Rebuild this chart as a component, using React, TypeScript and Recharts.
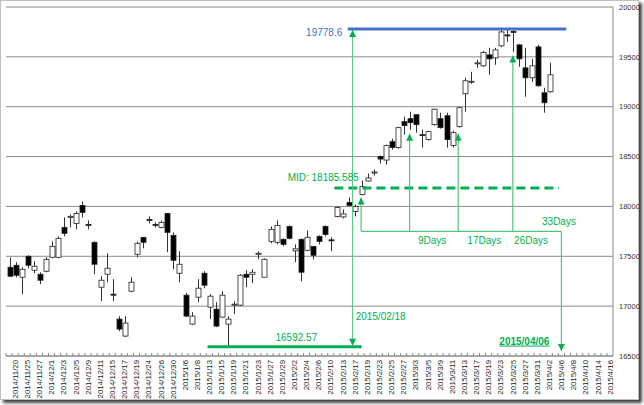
import React from "react";
import {
  ComposedChart,
  Bar,
  XAxis,
  YAxis,
  CartesianGrid,
  ReferenceLine,
  ReferenceDot,
} from "recharts";

const dates = [
  "2014/11/19", "2014/11/20", "2014/11/21", "2014/11/25", "2014/11/26", "2014/11/27", "2014/11/28",
  "2014/12/1", "2014/12/2", "2014/12/3", "2014/12/4", "2014/12/5", "2014/12/8", "2014/12/9",
  "2014/12/10", "2014/12/11", "2014/12/12", "2014/12/15", "2014/12/16", "2014/12/17", "2014/12/18",
  "2014/12/19", "2014/12/22", "2014/12/24", "2014/12/25", "2014/12/26", "2014/12/29", "2014/12/30",
  "2015/1/5", "2015/1/6", "2015/1/7", "2015/1/8", "2015/1/9", "2015/1/13", "2015/1/14", "2015/1/15",
  "2015/1/16", "2015/1/19", "2015/1/20", "2015/1/21", "2015/1/22", "2015/1/23", "2015/1/26",
  "2015/1/27", "2015/1/28", "2015/1/29", "2015/1/30", "2015/2/2", "2015/2/3", "2015/2/4", "2015/2/5",
  "2015/2/6", "2015/2/9", "2015/2/10", "2015/2/12", "2015/2/13", "2015/2/16", "2015/2/17",
  "2015/2/18", "2015/2/19", "2015/2/20", "2015/2/23", "2015/2/24", "2015/2/25", "2015/2/26",
  "2015/2/27", "2015/3/2", "2015/3/3", "2015/3/4", "2015/3/5", "2015/3/6", "2015/3/9", "2015/3/10",
  "2015/3/11", "2015/3/12", "2015/3/13", "2015/3/16", "2015/3/17", "2015/3/18", "2015/3/19",
  "2015/3/20", "2015/3/23", "2015/3/24", "2015/3/25", "2015/3/26", "2015/3/27", "2015/3/30",
  "2015/3/31", "2015/4/1", "2015/4/2", "2015/4/3", "2015/4/6", "2015/4/7", "2015/4/8", "2015/4/9",
  "2015/4/10", "2015/4/13", "2015/4/14", "2015/4/15", "2015/4/16",
];

const opens = [
  17390, 17410, 17290, 17500, 17360, 17320, 17350, 17490, 17490, 17790,
  17890, 17830, 18010, 17820, 17640, 17190, 17320, 17120, 16870, 16700,
  17150, 17520, 17690, 17870, 17820, 17790, 17930, 17710, 17330, 17110,
  16820, 17090, 17330, 16990, 16970, 16890, 16820, 17015, 17010, 17320,
  17320, 17525, 17290, 17650, 17640, 17670, 17800, 17555, 17670, 17560,
  17600, 17700, 17800, 17665, 17900, 17895, 18040, 17950, 18120, 18255,
  18340, 18500, 18465, 18650, 18590, 18850, 18880, 18920, 18720, 18670,
  18820, 18880, 18910, 18610, 18800, 19130, 19250, 19435, 19410, 19520,
  19490, 19610, 19720, 19755, 19620, 19390, 19290, 19600, 19140, 19150,
];
const highs = [
  17490, 17440, 17390, 17510, 17450, 17340, 17490, 17650, 17700, 17890,
  17920, 17950, 18050, 17860, 17650, 17300, 17530, 17270, 16900, 16900,
  17290, 17650, 17690, 17900, 17840, 17860, 17930, 17740, 17550, 17130,
  16940, 17270, 17350, 17120, 17040, 17150, 16900, 17050, 17320, 17360,
  17370, 17550, 17480, 17800, 17860, 17680, 17810, 17620, 17680, 17760,
  17600, 17710, 17810, 17690, 18000, 17970, 18090, 18020, 18260, 18330,
  18370, 18510, 18620, 18680, 18800, 18900, 18950, 18920, 18770, 18760,
  18980, 18940, 18940, 18760, 19000, 19290, 19350, 19470, 19560, 19590,
  19590, 19780, 19780, 19778.6, 19630, 19590, 19480, 19620, 19190, 19440,
];
const lows = [
  17290, 17290, 17120, 17380, 17330, 17220, 17340, 17480, 17480, 17700,
  17790, 17770, 17890, 17770, 17320, 17050, 17240, 17050, 16750, 16690,
  17140, 17490, 17580, 17830, 17790, 17780, 17540, 17370, 17240, 16890,
  16810, 17040, 17180, 16870, 16790, 16880, 16592.57, 16920, 17000, 17190,
  17230, 17470, 17290, 17630, 17620, 17600, 17670, 17440, 17250, 17550,
  17470, 17620, 17700, 17550, 17890, 17880, 18000, 17900, 18110, 18250,
  18310, 18430, 18420, 18570, 18580, 18720, 18770, 18740, 18590, 18660,
  18810, 18780, 18590, 18590, 18790, 18950, 19230, 19390, 19400, 19320,
  19420, 19600, 19650, 19550, 19400, 19100, 19250, 19200, 18940, 19140,
];
const closes = [
  17300, 17310, 17370, 17410, 17400, 17260, 17470, 17600, 17680, 17730,
  17900, 17930, 17940, 17815, 17420, 17260, 17380, 17115, 16770, 16830,
  17240, 17630, 17640, 17865, 17818, 17840, 17740, 17460, 17420, 16900,
  16900, 17180, 17210, 17100, 16800, 17110, 16870, 17020, 17310, 17290,
  17340, 17530, 17470, 17770, 17810, 17620, 17680, 17575, 17340, 17690,
  17510, 17650, 17720, 17660, 17990, 17925, 18010, 18000, 18200, 18285,
  18345, 18475, 18610, 18590, 18790, 18810, 18840, 18820, 18715, 18750,
  18975, 18790, 18670, 18740, 18990, 19260, 19255, 19440, 19545, 19480,
  19570, 19750, 19715, 19750, 19480, 19290, 19410, 19210, 19040, 19320,
];

const yTicks = [16500, 17000, 17500, 18000, 18500, 19000, 19500, 20000];

const HIGH = 19778.6;
const LOW = 16592.57;
const MID = 18185.585;

const data = dates.map((date, i) => ({
  idx: i,
  date,
  range: i < opens.length ? [lows[i], highs[i]] : undefined,
  o: opens[i],
  h: highs[i],
  l: lows[i],
  c: closes[i],
}));

const GREEN = "#00b050";
const LIGHT_GREEN = "#52c47c";
const BLUE = "#4472c4";
const FONT = "'Liberation Sans', Arial, sans-serif";

function Candle(props: any) {
  const { x, y, width, height, payload } = props;
  if (payload == null || payload.o == null) return null;
  const { o, h, l, c } = payload;
  const top = Math.min(y, y + height);
  const hh = Math.abs(height);
  const k = h === l ? 0 : hh / (h - l);
  const yO = top + (h - o) * k;
  const yC = top + (h - c) * k;
  const bodyTop = Math.min(yO, yC);
  const bodyH = Math.max(Math.abs(yO - yC), 1);
  const cx = Math.round(x + width / 2) + 0.5;
  const up = c >= o;
  return (
    <g>
      <line x1={cx} x2={cx} y1={top} y2={top + hh} stroke="#333" strokeWidth={1} />
      <rect
        x={cx - width / 2}
        y={bodyTop}
        width={width}
        height={bodyH}
        fill={up ? "#fff" : "#000"}
        stroke="#222"
        strokeWidth={0.8}
      />
    </g>
  );
}

function arrowLine(color: string, width: number, heads: string, dash?: string) {
  return (p: any) => {
    const { x1, y1, x2, y2 } = p;
    const dx = x2 - x1;
    const dy = y2 - y1;
    const len = Math.sqrt(dx * dx + dy * dy) || 1;
    const ux = dx / len;
    const uy = dy / len;
    const head = (tx: number, ty: number, sx: number, sy: number) => {
      const bx = tx - sx * 7;
      const by = ty - sy * 7;
      return `${tx},${ty} ${bx - sy * 3.5},${by + sx * 3.5} ${bx + sy * 3.5},${by - sx * 3.5}`;
    };
    return (
      <g>
        <line x1={x1} y1={y1} x2={x2} y2={y2} stroke={color} strokeWidth={width} strokeDasharray={dash} />
        {(heads === "end" || heads === "both") && <polygon points={head(x2, y2, ux, uy)} fill={GREEN} />}
        {(heads === "start" || heads === "both") && <polygon points={head(x1, y1, -ux, -uy)} fill={GREEN} />}
      </g>
    );
  };
}

function label(text: string, color: string, anchor: string, extra: any = {}) {
  return (p: any) => (
    <text
      x={p.cx}
      y={p.cy}
      dy="0.35em"
      textAnchor={anchor}
      fill={color}
      fontSize={10}
      fontFamily={FONT}
      {...extra}
    >
      {text}
    </text>
  );
}

function DateTick(props: any) {
  const { x, y, payload, index } = props;
  return (
    <g>
      <line x1={x - 3} x2={x - 3} y1={y - 3} y2={y} stroke="#888" />
      {index % 2 === 1 && (
        <text
          x={x}
          y={y + 4}
          transform={`rotate(-90 ${x} ${y + 4})`}
          textAnchor="end"
          dy="0.35em"
          fontSize={7.8}
          fontFamily={FONT}
          fill="#222"
        >
          {payload.value}
        </text>
      )}
    </g>
  );
}

export default function App() {
  return (
    <div style={{ position: "absolute", left: 0, top: 0, width: 644, height: 405, background: "#fff" }}>
      <div
        style={{
          position: "absolute",
          left: 0,
          top: 0,
          width: 637,
          height: 398,
          border: "1px solid #c0c0c0",
          boxShadow: "3px 3px 3px rgba(0,0,0,0.75)",
          background: "#fff",
        }}
      />
      <div style={{ position: "absolute", left: 0, top: 0 }}>
        <ComposedChart
          width={644}
          height={405}
          data={data}
          margin={{ top: 7, right: 5, bottom: 4, left: 6 }}
          barCategoryGap={0}
        >
          <CartesianGrid vertical={false} stroke="#8c8c8c" />
          <XAxis
            dataKey="date"
            interval={0}
            height={45}
            tick={<DateTick />}
            tickLine={false}
            tickSize={0}
            tickMargin={0}
            axisLine={{ stroke: "#8c8c8c" }}
          />
          <XAxis xAxisId="n" type="number" dataKey="idx" domain={[-0.5, 99.5]} hide />
          <YAxis
            orientation="right"
            domain={[16500, 20000]}
            ticks={yTicks}
            width={26}
            tickLine={false}
            tickSize={0}
            tickMargin={6}
            axisLine={{ stroke: "#8c8c8c" }}
            tick={{ fontSize: 7.5, fill: "#333", fontFamily: FONT }}
            allowDataOverflow
          />
          <YAxis yAxisId="l" orientation="left" domain={[16500, 20000]} width={0} tick={false} axisLine={{ stroke: "#8c8c8c" }} />
          <Bar dataKey="range" barSize={5} shape={<Candle />} isAnimationActive={false} />

          <ReferenceLine xAxisId="n" segment={[{ x: 55.8, y: HIGH }, { x: 91.8, y: HIGH }]} shape={arrowLine(BLUE, 3, "none")} />
          <ReferenceLine xAxisId="n" segment={[{ x: 32.7, y: LOW }, { x: 58.1, y: LOW }]} shape={arrowLine(GREEN, 3, "none")} />
          <ReferenceLine xAxisId="n" segment={[{ x: 53.6, y: MID }, { x: 90.6, y: MID }]} shape={arrowLine(GREEN, 3, "none", "9 5")} />

          <ReferenceLine xAxisId="n" segment={[{ x: 56.6, y: LOW + 10 }, { x: 56.6, y: HIGH - 10 }]} shape={arrowLine(LIGHT_GREEN, 1, "both")} />
          <ReferenceLine xAxisId="n" segment={[{ x: 58, y: 17750 }, { x: 58, y: 18090 }]} shape={arrowLine(LIGHT_GREEN, 1.2, "end")} />
          <ReferenceLine xAxisId="n" segment={[{ x: 58, y: 17750 }, { x: 91, y: 17750 }]} shape={arrowLine(LIGHT_GREEN, 1.2, "none")} />
          <ReferenceLine xAxisId="n" segment={[{ x: 66, y: 17750 }, { x: 66, y: 18730 }]} shape={arrowLine(LIGHT_GREEN, 1.2, "end")} />
          <ReferenceLine xAxisId="n" segment={[{ x: 74, y: 17750 }, { x: 74, y: 18730 }]} shape={arrowLine(LIGHT_GREEN, 1.2, "end")} />
          <ReferenceLine xAxisId="n" segment={[{ x: 83, y: 17750 }, { x: 83, y: 19513 }]} shape={arrowLine(LIGHT_GREEN, 1.2, "end")} />
          <ReferenceLine xAxisId="n" segment={[{ x: 91, y: 17750 }, { x: 91, y: 16550 }]} shape={arrowLine(LIGHT_GREEN, 1.2, "end")} />

          <ReferenceDot xAxisId="n" x={54.9} y={19740} shape={label("19778.6", BLUE, "end")} />
          <ReferenceDot xAxisId="n" x={45.9} y={18290} shape={label("MID: 18185.585", GREEN, "start")} />
          <ReferenceDot xAxisId="n" x={43.9} y={16690} shape={label("16592.57", GREEN, "start")} />
          <ReferenceDot xAxisId="n" x={57.1} y={16900} shape={label("2015/02/18", GREEN, "start")} />
          <ReferenceDot xAxisId="n" x={69.7} y={17660} shape={label("9Days", GREEN, "middle")} />
          <ReferenceDot xAxisId="n" x={78.3} y={17660} shape={label("17Days", GREEN, "middle")} />
          <ReferenceDot xAxisId="n" x={86.0} y={17660} shape={label("26Days", GREEN, "middle")} />
          <ReferenceDot xAxisId="n" x={90.6} y={17850} shape={label("33Days", GREEN, "middle")} />
          <ReferenceDot
            xAxisId="n"
            x={84.9}
            y={16650}
            shape={label("2015/04/06", GREEN, "middle", { fontWeight: "bold", textDecoration: "underline" })}
          />
        </ComposedChart>
      </div>
    </div>
  );
}
